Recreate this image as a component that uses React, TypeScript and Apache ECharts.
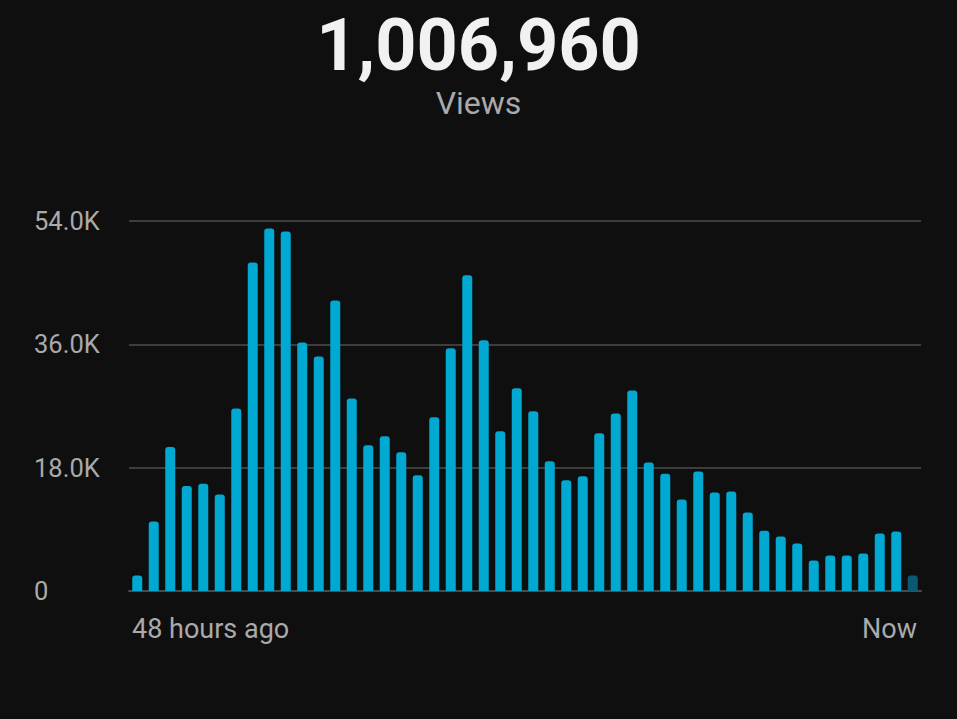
import React, { useEffect, useRef } from "react";
import * as echarts from "echarts";

const totalViews = "1,006,960";
const metricName = "Views";
const hours = Array.from({ length: 48 }, (_, i) => String(48 - i));
const xEndLabels = ["48 hours ago", "Now"];
const yTicks = [0, 18000, 36000, 54000];
const views = [
  2250, 10130, 21020, 15320, 15670, 14070, 26620, 47930, 52890, 52450,
  36250, 34210, 42380, 28080, 21260, 22580, 20240, 16890, 25350, 35420,
  46070, 36590, 23310, 29580, 26230, 18930, 16160, 16740, 23020, 25890,
  29250, 18740, 17130, 13340, 17430, 14360, 14510, 11440, 8810, 7940,
  6920, 4440, 5170, 5170, 5460, 8380, 8670, 2250,
];

export default function App() {
  const ref = useRef<HTMLDivElement>(null);
  useEffect(() => {
    if (!ref.current) return;
    const chart = echarts.init(ref.current, null, { renderer: "svg" });
    const last = views.length - 1;
    chart.setOption({
      animation: false,
      backgroundColor: "#0f0f0f",
      title: {
        text: totalViews,
        subtext: metricName,
        left: "center",
        top: 4,
        itemGap: 6,
        textStyle: {
          color: "#f1f1f1",
          fontSize: 72,
          fontWeight: "bold",
          fontFamily: "Roboto",
        },
        subtextStyle: {
          color: "#aaaaaa",
          fontSize: 32,
          fontFamily: "Roboto",
        },
      },
      grid: { left: 129, right: 36, top: 221, bottom: 128 },
      xAxis: [
        {
          type: "category",
          data: hours,
          axisLine: { lineStyle: { color: "#4a4a4a", width: 2 } },
          axisTick: { show: false },
          axisLabel: { show: false },
        },
        {
          type: "value",
          position: "bottom",
          min: 0,
          max: xEndLabels.length - 1,
          interval: 1,
          axisLine: { show: false },
          axisTick: { show: false },
          splitLine: { show: false },
          axisLabel: {
            margin: 24,
            color: "#aaaaaa",
            fontSize: 27,
            fontFamily: "Roboto",
            alignMinLabel: "left",
            alignMaxLabel: "right",
            padding: [0, 4, 0, 3],
            formatter: (v: number) => xEndLabels[v] ?? "",
          },
        },
      ],
      yAxis: {
        type: "value",
        min: yTicks[0],
        max: yTicks[yTicks.length - 1],
        interval: yTicks[1] - yTicks[0],
        axisLine: { show: false },
        axisTick: { show: false },
        splitLine: { lineStyle: { color: "#3d3d3d", width: 2 } },
        axisLabel: {
          color: "#aaaaaa",
          fontSize: 25.5,
          fontFamily: "Roboto",
          align: "left",
          margin: 95,
          formatter: (v: number) => (v === 0 ? "0" : (v / 1000).toFixed(1) + "K"),
        },
      },
      series: [
        {
          type: "bar",
          xAxisIndex: 0,
          data: views.map((v, i) => ({
            value: v,
            itemStyle: { color: i === last ? "#0c5a72" : "#00a8d2" },
          })),
          barWidth: 10,
          itemStyle: { borderRadius: [3, 3, 0, 0] },
        },
      ],
    });
    return () => chart.dispose();
  }, []);
  return (
    <div
      ref={ref}
      style={{ position: "fixed", left: 0, top: 0, width: 957, height: 719 }}
    />
  );
}
